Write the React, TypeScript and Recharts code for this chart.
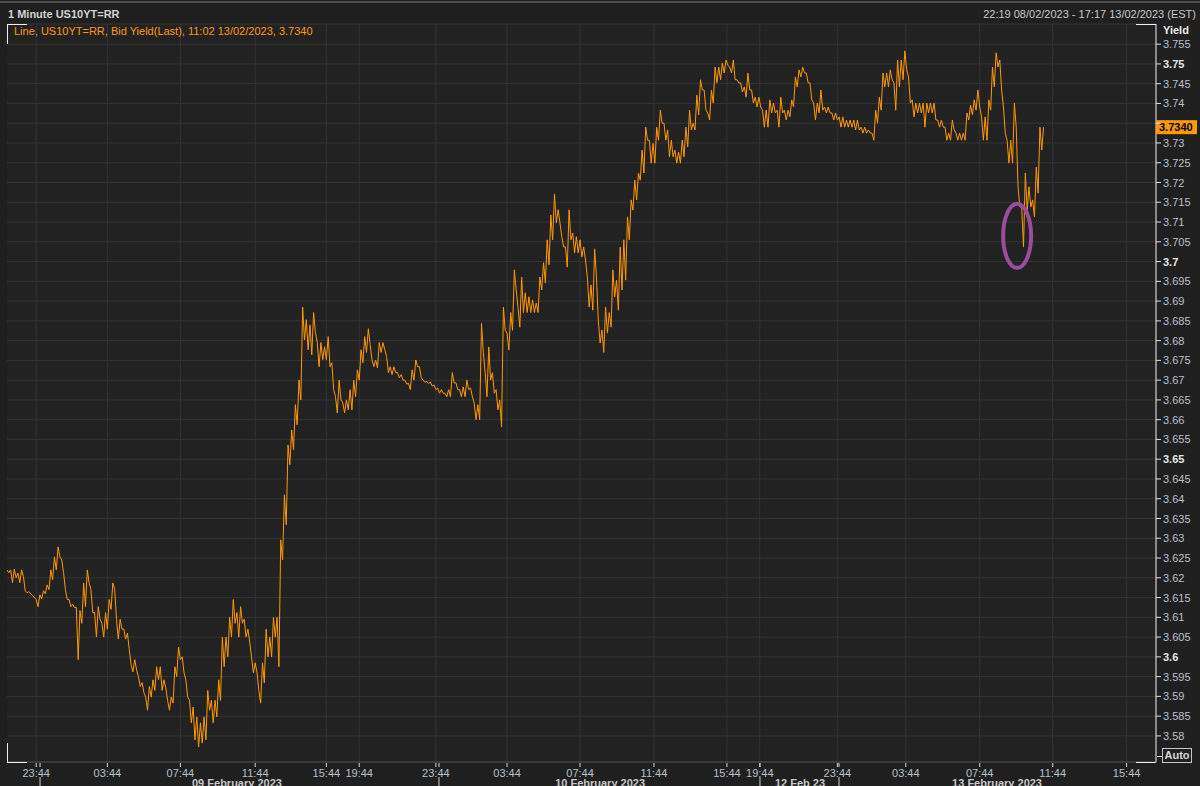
import React from 'react';
import { LineChart, Line, XAxis, YAxis, CartesianGrid, ReferenceDot } from 'recharts';

// 1 minute US10YT=RR bid yield, one reading every 0.1 h of displayed (session) time
const STEP_HOURS = 0.1;

const feb08Yield = [
    3.622, 3.6213, 3.622, 3.6188, 3.6222, 3.62, 3.6212, 3.6188, 3.622, 3.6203,
    3.6167, 3.6162, 3.6165, 3.616, 3.6155, 3.615, 3.6145, 3.6127, 3.6157, 3.6147,
];

const feb09Yield = [
    3.6167, 3.616, 3.6182, 3.617, 3.622, 3.6195, 3.6253, 3.622, 3.6278, 3.6253,
    3.6245, 3.6213, 3.617, 3.6145, 3.6145, 3.6127, 3.6133, 3.6125, 3.6125, 3.5993,
    3.6117, 3.6085, 3.6187, 3.6127, 3.622, 3.6187, 3.617, 3.6112, 3.6112, 3.605,
    3.6127, 3.6095, 3.6085, 3.605, 3.6112, 3.607, 3.6145, 3.612, 3.6187, 3.617,
    3.6095, 3.6045, 3.6095, 3.607, 3.607, 3.6045, 3.606, 3.6018, 3.598, 3.5962,
    3.5993, 3.5967, 3.595, 3.5925, 3.5935, 3.591, 3.5898, 3.5865, 3.5925, 3.5898,
    3.5942, 3.5915, 3.5975, 3.5942, 3.5975, 3.5915, 3.5942, 3.5922, 3.589, 3.5865,
    3.5898, 3.5883, 3.5975, 3.595, 3.6025, 3.5993, 3.6, 3.596, 3.5942, 3.5898,
    3.589, 3.5833, 3.5873, 3.579, 3.5848, 3.5772, 3.5833, 3.5782, 3.5848, 3.579,
    3.5915, 3.5865, 3.589, 3.5833, 3.589, 3.5848, 3.5942, 3.589, 3.605, 3.5975,
    3.605, 3.6, 3.61, 3.605, 3.6145, 3.6085, 3.6112, 3.605, 3.6127, 3.6085,
    3.6095, 3.605, 3.607, 3.6037, 3.6, 3.596, 3.5985, 3.596, 3.5915, 3.5883,
    3.5985, 3.5934, 3.607, 3.6, 3.605, 3.6, 3.61, 3.605, 3.61, 3.5975,
    3.6296, 3.6245, 3.641, 3.6334, 3.6536, 3.6486, 3.6574, 3.6524, 3.6638, 3.6587,
    3.67, 3.665, 3.6885, 3.6802, 3.6853, 3.6777, 3.684, 3.6764, 3.6871, 3.6821,
    3.6795, 3.6734, 3.6795, 3.6752, 3.6784, 3.6752, 3.681, 3.6734, 3.6744, 3.6676,
    3.6658, 3.6617, 3.67, 3.665, 3.6642, 3.6617, 3.665, 3.6625, 3.6676, 3.6625,
    3.67, 3.6658, 3.6726, 3.67, 3.6777, 3.6744, 3.681, 3.677, 3.683, 3.679,
    3.6751, 3.6734, 3.6751, 3.6731, 3.6795, 3.677, 3.6795, 3.6777, 3.676, 3.6719,
    3.6734, 3.6714, 3.6734, 3.6719, 3.6719, 3.6706, 3.6714, 3.67, 3.67, 3.669,
    3.6692, 3.6676, 3.6726, 3.67, 3.6751, 3.6734, 3.6734, 3.6706, 3.67, 3.6695,
    3.6697, 3.6692, 3.6695, 3.6685, 3.6688, 3.6676, 3.668, 3.6667,
];

const feb10Yield = [
    3.6676, 3.6667, 3.6667, 3.6658, 3.6676, 3.6658, 3.6719, 3.6693, 3.6693, 3.6676,
    3.6676, 3.6658, 3.6683, 3.6658, 3.67, 3.6676, 3.668, 3.6658, 3.6642, 3.66,
    3.6638, 3.66, 3.6844, 3.677, 3.6719, 3.6658, 3.6784, 3.67, 3.6719, 3.6667,
    3.6676, 3.6625, 3.665, 3.6582, 3.6885, 3.6826, 3.6819, 3.6776, 3.6871, 3.6826,
    3.6979, 3.6928, 3.6885, 3.6834, 3.6961, 3.6871, 3.6921, 3.6871, 3.6911, 3.6871,
    3.6903, 3.6871, 3.6895, 3.6871, 3.6961, 3.6928, 3.6997, 3.6946, 3.7055, 3.6992,
    3.7118, 3.7055, 3.7171, 3.7098, 3.7131, 3.7098, 3.7063, 3.7037, 3.7037, 3.6986,
    3.7131, 3.7055, 3.7072, 3.7022, 3.7063, 3.7022, 3.7055, 3.7012, 3.7037, 3.7004,
    3.6961, 3.6885, 3.6941, 3.6877, 3.7032, 3.6961, 3.6852, 3.6794, 3.6827, 3.677,
    3.6885, 3.6819, 3.6871, 3.6834, 3.6979, 3.6911, 3.6953, 3.6877, 3.7037, 3.6928,
    3.7055, 3.6953, 3.7113, 3.7055, 3.7156, 3.713, 3.7206, 3.7156, 3.7224, 3.7206,
    3.7282, 3.7224, 3.734, 3.7307, 3.7307, 3.7249, 3.7299, 3.7249, 3.734, 3.7307,
    3.7383, 3.735, 3.735, 3.7307, 3.7333, 3.7265, 3.7307, 3.7265, 3.7282, 3.7249,
    3.7277, 3.7249, 3.7307, 3.7265, 3.734, 3.729, 3.7383, 3.7333, 3.735, 3.7333,
    3.7421, 3.7371, 3.746, 3.7434, 3.7434, 3.7383, 3.7376, 3.7358, 3.7434, 3.7401,
    3.7492, 3.7452, 3.7492, 3.746, 3.7502, 3.7477, 3.751, 3.7497, 3.7492, 3.7477,
    3.751, 3.746, 3.746, 3.7452, 3.7452, 3.7429, 3.7442, 3.7416, 3.7477, 3.7434,
    3.7434, 3.7401, 3.7416, 3.7391, 3.7416, 3.7391,
];

const feb12Yield = [
    3.7383, 3.734, 3.7383, 3.734, 3.7409, 3.7376, 3.7401, 3.7376, 3.7383, 3.734,
    3.7416, 3.7376, 3.7383, 3.7358, 3.7383, 3.7366, 3.7409, 3.7391, 3.7467, 3.7442,
    3.7485, 3.7467, 3.7492, 3.7477, 3.7477, 3.7452, 3.7452, 3.7409, 3.7401, 3.7358,
    3.7401, 3.7376, 3.7434, 3.7383, 3.7391, 3.7376, 3.7391, 3.7376, 3.7376, 3.7358,
    3.7376, 3.7358,
];

const feb13Yield = [
    3.7366, 3.734, 3.7366, 3.734, 3.7358, 3.734, 3.7358, 3.734, 3.7358, 3.7333,
    3.7358, 3.7333, 3.734, 3.7325, 3.734, 3.7325, 3.7333, 3.7325, 3.7325, 3.7307,
    3.7383, 3.735, 3.7416, 3.7383, 3.7477, 3.7442, 3.7477, 3.7442, 3.7485, 3.746,
    3.7452, 3.7383, 3.751, 3.7442, 3.751, 3.746, 3.7533, 3.7485, 3.7467, 3.7401,
    3.7409, 3.7366, 3.7401, 3.7376, 3.7401, 3.7376, 3.7401, 3.734, 3.7401, 3.7376,
    3.7401, 3.7376, 3.7401, 3.7358, 3.7358, 3.734, 3.7358, 3.734, 3.734, 3.7307,
    3.7325, 3.7307, 3.7358, 3.7333, 3.7325, 3.7307, 3.7325, 3.7307, 3.7325, 3.7307,
    3.7376, 3.7358, 3.7396, 3.7371, 3.7409, 3.7383, 3.7434, 3.7391, 3.7366, 3.7307,
    3.7366, 3.7307, 3.7409, 3.7383, 3.7492, 3.7442, 3.7528, 3.7492, 3.751, 3.7434,
    3.7391, 3.7325, 3.7307, 3.7249, 3.7307, 3.7249, 3.7401, 3.734, 3.7189, 3.7138,
    3.7138, 3.7037, 3.7224, 3.713, 3.7189, 3.7138, 3.7156, 3.7113, 3.7239, 3.7173,
    3.734, 3.7282, 3.734,
];

const timeTicks = [1.6, 5.5, 9.5, 13.6, 17.5, 19.3, 23.5, 27.4, 31.4, 35.45, 39.45, 41.25, 45.5, 49.25, 53.3, 57.3, 61.35];
const timeLabels = ['23:44', '03:44', '07:44', '11:44', '15:44', '19:44', '23:44', '03:44', '07:44', '11:44', '15:44', '19:44', '23:44', '03:44', '07:44', '11:44', '15:44'];

const dateSeparators = [1.81, 23.67, 41.26, 45.59];
const dateCenters = [12.6, 32.5, 43.45, 54.25];
const dateLabels = ['09 February 2023', '10 February 2023', '12 Feb 23', '13 February 2023'];

const yieldTicks = [
    3.58, 3.585, 3.59, 3.595, 3.6, 3.605, 3.61, 3.615, 3.62, 3.625, 3.63, 3.635,
    3.64, 3.645, 3.65, 3.655, 3.66, 3.665, 3.67, 3.675, 3.68, 3.685, 3.69, 3.695,
    3.7, 3.705, 3.71, 3.715, 3.72, 3.725, 3.73, 3.735, 3.74, 3.745, 3.75, 3.755,
];

const lastYield = 3.734;
const circled = { t: 55.35, y: 3.7065 };

const X_DOMAIN: [number, number] = [0, 62.96];
const Y_DOMAIN: [number, number] = [3.5734, 3.7601];

const allYield = [...feb08Yield, ...feb09Yield, ...feb10Yield, ...feb12Yield, ...feb13Yield];
const chartData = allYield.map((y, i) => ({ t: +(i * STEP_HOURS).toFixed(2), y }));
const axisTicks = [...timeTicks, ...dateSeparators, ...dateCenters].sort((a, b) => a - b);

const FONT = '"Liberation Sans", Arial, sans-serif';
const BG = '#1f1f1f';

// one bottom axis draws time labels, date separators and date captions
function BottomTick(props: any) {
    const { x, y, payload } = props;
    const v = payload.value;
    const ti = timeTicks.indexOf(v);
    if (ti >= 0) {
        return (
            <g>
                <line x1={x} x2={x} y1={y + 1} y2={y + 5} stroke="#d8d8d8" />
                <text x={x} y={y + 15} textAnchor="middle" fill="#b8c0cc" fontSize={11} fontFamily={FONT}>
                    {timeLabels[ti]}
                </text>
            </g>
        );
    }
    if (dateSeparators.indexOf(v) >= 0) {
        return (
            <g>
                <line x1={x} x2={x} y1={y + 1} y2={y + 5} stroke="#d8d8d8" />
                <line x1={x} x2={x} y1={y + 15} y2={y + 26} stroke="#d0d0d0" />
            </g>
        );
    }
    const di = dateCenters.indexOf(v);
    return (
        <text x={x} y={y + 25} textAnchor="middle" fill="#c8c8c8" fontSize={11} fontWeight="bold" fontFamily={FONT}>
            {dateLabels[di]}
        </text>
    );
}

function YieldTick(props: any) {
    const { x, y, payload } = props;
    const v: number = payload.value;
    const major = Math.abs(v * 20 - Math.round(v * 20)) < 1e-6;
    const hidden = Math.abs(v - 3.735) < 1e-6; // covered by last price marker
    return (
        <g>
            <line x1={x} x2={x + 5} y1={y} y2={y} stroke="#e0e0e0" />
            {!hidden && (
                <text
                    x={x + 7}
                    y={y + 4}
                    fill={major ? '#e6e6e6' : '#b8c0d0'}
                    fontWeight={major ? 'bold' : 'normal'}
                    fontSize={11}
                    fontFamily={FONT}
                >
                    {String(Number(v.toFixed(3)))}
                </text>
            )}
        </g>
    );
}

const corner: React.CSSProperties = { position: 'absolute', background: '#f2f2f2' };

export default function App() {
    return (
        <div style={{ position: 'fixed', left: 0, top: 0, width: 1200, height: 786, background: BG, fontFamily: FONT, overflow: 'hidden' }}>
            <div style={{ position: 'absolute', left: 0, top: 1, width: 1200, height: 2, background: '#4c4c4c' }} />
            <div style={{ position: 'absolute', left: 8, top: 7, fontSize: 11, fontWeight: 'bold', color: '#d2d2d2', lineHeight: '14px' }}>
                1 Minute US10YT=RR
            </div>
            <div style={{ position: 'absolute', right: 4, top: 7, fontSize: 11, color: '#c8c8c8', lineHeight: '14px' }}>
                22:19 08/02/2023 - 17:17 13/02/2023 (EST)
            </div>

            <div style={{ position: 'absolute', left: 0, top: 0 }}>
                <LineChart width={1200} height={786} data={chartData} margin={{ top: 24, right: 0, bottom: 0, left: 7 }}>
                    <CartesianGrid stroke="#343434" fill="#222222" verticalValues={timeTicks} />
                    <XAxis
                        dataKey="t"
                        type="number"
                        domain={X_DOMAIN}
                        ticks={axisTicks}
                        interval={0}
                        height={24}
                        tickSize={0}
                        tickMargin={0}
                        tickLine={false}
                        axisLine={{ stroke: '#4a4a4a' }}
                        tick={<BottomTick />}
                        allowDataOverflow
                    />
                    <YAxis
                        orientation="right"
                        type="number"
                        domain={Y_DOMAIN}
                        ticks={yieldTicks}
                        interval={0}
                        width={44}
                        tickSize={0}
                        tickMargin={0}
                        tickLine={false}
                        axisLine={{ stroke: '#f2f2f2' }}
                        tick={<YieldTick />}
                        allowDataOverflow
                    />
                    <Line
                        type="linear"
                        dataKey="y"
                        stroke="#ff9900"
                        strokeWidth={1}
                        dot={false}
                        isAnimationActive={false}
                    />
                    <ReferenceDot
                        x={circled.t}
                        y={circled.y}
                        ifOverflow="visible"
                        shape={(p: any) => (
                            <ellipse cx={p.cx} cy={p.cy} rx={14} ry={32} fill="none" stroke="#9a4c9e" strokeWidth={4} />
                        )}
                    />
                    <ReferenceDot
                        x={X_DOMAIN[1]}
                        y={lastYield}
                        ifOverflow="visible"
                        shape={(p: any) => (
                            <g>
                                <rect x={p.cx} y={p.cy - 7} width={41} height={14} fill="#ff9900" />
                                <text x={p.cx + 3} y={p.cy + 4} fill="#000" fontWeight="bold" fontSize={11} fontFamily={FONT}>
                                    {lastYield.toFixed(4)}
                                </text>
                            </g>
                        )}
                    />
                </LineChart>
            </div>

            <div style={{ position: 'absolute', left: 14, top: 24, fontSize: 11, color: '#ff9900', lineHeight: '14px' }}>
                Line, US10YT=RR, Bid Yield(Last), 11:02 13/02/2023, 3.7340
            </div>
            <div style={{ position: 'absolute', left: 1163, top: 23, fontSize: 11, fontWeight: 'bold', color: '#ececec', lineHeight: '14px' }}>
                Yield
            </div>

            {/* plot frame corner marks */}
            <div style={{ ...corner, left: 7, top: 24, width: 20, height: 1 }} />
            <div style={{ ...corner, left: 7, top: 24, width: 1, height: 20 }} />
            <div style={{ ...corner, left: 1136, top: 24, width: 20, height: 1 }} />
            <div style={{ ...corner, left: 7, top: 762, width: 20, height: 1 }} />
            <div style={{ ...corner, left: 7, top: 743, width: 1, height: 20 }} />
            <div style={{ ...corner, left: 1136, top: 762, width: 20, height: 1 }} />

            <div style={{ position: 'absolute', left: 1157, top: 756, width: 6, height: 1, background: '#e0e0e0' }} />
            <div
                style={{
                    position: 'absolute', left: 1162, top: 748, width: 28, height: 13,
                    border: '1px solid #c8c8c8', color: '#d8d8d8', fontSize: 11, fontWeight: 'bold',
                    lineHeight: '13px', textAlign: 'center',
                }}
            >
                Auto
            </div>
        </div>
    );
}
